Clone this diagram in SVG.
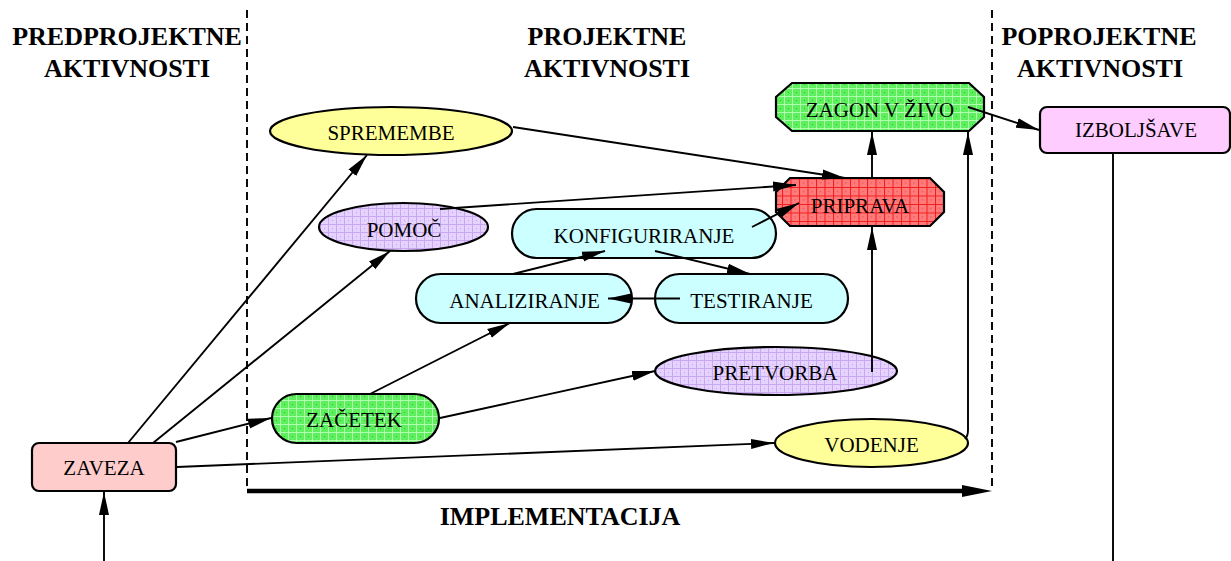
<svg xmlns="http://www.w3.org/2000/svg" width="1231" height="561" viewBox="0 0 1231 561">
  <style>
    .hdr { font-family: "Liberation Serif", "Times New Roman", serif; font-weight: bold; font-size: 26px; text-anchor: middle; fill: #000; }
    .lbl { font-family: "Liberation Serif", "Times New Roman", serif; font-size: 21px; text-anchor: middle; fill: #000; }
    .node { stroke: #000; stroke-width: 2.2; }
    .edge { stroke: #000; stroke-width: 1.9; fill: none; marker-end: url(#arrow); }
    .divider { stroke: #000; stroke-width: 1.9; stroke-dasharray: 8 5; fill: none; }
  </style>
  <defs>
    <marker id="arrow" markerUnits="userSpaceOnUse" markerWidth="24" markerHeight="11" refX="23" refY="5.5" orient="auto">
      <path d="M0,0.5 L23,5.5 L0,10.5 z" fill="#000"/>
    </marker>
    <!-- hatched grid fills -->
    <pattern id="gridGreen" patternUnits="userSpaceOnUse" width="8" height="8">
      <rect width="8" height="8" fill="#5eee5e"/>
      <path d="M0,0.5 H8 M0.5,0 V8" stroke="#b0ffb0" stroke-width="1"/>
      <rect x="4" y="4" width="1" height="1" fill="#1ec81e"/>
    </pattern>
    <pattern id="gridRed" patternUnits="userSpaceOnUse" width="8.5" height="8.5">
      <rect width="8.5" height="8.5" fill="#ff7a7a"/>
      <path d="M0,0.5 H8.5 M0.5,0 V8.5" stroke="#f21c1c" stroke-width="1"/>
      <rect x="4" y="4" width="1" height="1" fill="#d83a3a"/>
    </pattern>
    <pattern id="gridPurple" patternUnits="userSpaceOnUse" width="8" height="8">
      <rect width="8" height="8" fill="#e6d2ff"/>
      <path d="M0,0.5 H8 M0.5,0 V8" stroke="#c9a8f2" stroke-width="1"/>
      <rect x="4" y="4" width="1" height="1" fill="#c4a2ee"/>
    </pattern>
  </defs>

  <rect width="1231" height="561" fill="#fff"/>

  <!-- phase headers -->
  <g id="headers">
    <text class="hdr" x="127" y="45">PREDPROJEKTNE</text>
    <text class="hdr" x="127" y="77">AKTIVNOSTI</text>
    <text class="hdr" x="607" y="45">PROJEKTNE</text>
    <text class="hdr" x="607" y="77">AKTIVNOSTI</text>
    <text class="hdr" x="1099" y="45">POPROJEKTNE</text>
    <text class="hdr" x="1100" y="77">AKTIVNOSTI</text>
  </g>

  <!-- phase boundaries and implementation span -->
  <g id="frame">
    <line class="divider" x1="247" y1="10" x2="247" y2="491"/>
    <line class="divider" x1="992" y1="10" x2="992" y2="491"/>
    <line x1="247" y1="491" x2="964" y2="491" stroke="#000" stroke-width="4.5"/>
    <polygon points="962,485 992,491 962,497" fill="#000"/>
    <text class="hdr" x="560" y="525">IMPLEMENTACIJA</text>
  </g>

  <!-- activities -->
  <g id="zaveza">
    <rect class="node" x="32" y="443" width="144" height="48" rx="7" fill="#ffcccc"/>
    <text class="lbl" x="104" y="475">ZAVEZA</text>
  </g>
  <g id="spremembe">
    <ellipse class="node" cx="391" cy="131" rx="121" ry="24" fill="#ffff99"/>
    <text class="lbl" x="391" y="140">SPREMEMBE</text>
  </g>
  <g id="pomoc">
    <ellipse class="node" cx="403.5" cy="227" rx="84.5" ry="24" fill="url(#gridPurple)"/>
    <text class="lbl" x="404" y="237">POMOČ</text>
  </g>
  <g id="konfiguriranje">
    <rect class="node" x="512" y="209" width="264" height="49" rx="24.5" fill="#ccffff"/>
    <text class="lbl" x="644" y="243">KONFIGURIRANJE</text>
  </g>
  <g id="analiziranje">
    <rect class="node" x="416" y="274" width="216" height="49" rx="24.5" fill="#ccffff"/>
    <text class="lbl" x="524.5" y="308">ANALIZIRANJE</text>
  </g>
  <g id="testiranje">
    <rect class="node" x="655" y="274" width="193" height="49" rx="24.5" fill="#ccffff"/>
    <text class="lbl" x="751.5" y="308">TESTIRANJE</text>
  </g>
  <g id="pretvorba">
    <ellipse class="node" cx="776" cy="371" rx="121" ry="24" fill="url(#gridPurple)"/>
    <text class="lbl" x="775" y="380">PRETVORBA</text>
  </g>
  <g id="zacetek">
    <rect class="node" x="272" y="394" width="167" height="49" rx="24.5" fill="url(#gridGreen)"/>
    <text class="lbl" x="354" y="427">ZAČETEK</text>
  </g>
  <g id="vodenje">
    <ellipse class="node" cx="871.5" cy="443" rx="96.5" ry="24" fill="#ffff99"/>
    <text class="lbl" x="871.5" y="452">VODENJE</text>
  </g>
  <g id="priprava">
    <polygon class="node" points="790,178 930,178 944,192 944,212 930,226 790,226 776,212 776,192" fill="url(#gridRed)"/>
    <text class="lbl" x="860" y="213">PRIPRAVA</text>
  </g>
  <g id="zagon">
    <polygon class="node" points="792,83 969,83 984,97 984,117 969,131 792,131 776,117 776,97" fill="url(#gridGreen)"/>
    <text class="lbl" x="880" y="117">ZAGON V ŽIVO</text>
  </g>
  <g id="izboljsave">
    <rect class="node" x="1040" y="107" width="190" height="46" rx="7" fill="#ffccff"/>
    <text class="lbl" x="1136" y="137">IZBOLJŠAVE</text>
  </g>

  <!-- connectors, drawn over the activities -->
  <g id="connectors">
    <line class="edge" x1="104" y1="561" x2="104" y2="492"/>
    <line class="edge" x1="128" y1="443" x2="367" y2="155"/>
    <line class="edge" x1="153" y1="443" x2="390" y2="251"/>
    <line class="edge" x1="176" y1="442" x2="271" y2="418"/>
    <line class="edge" x1="177" y1="467" x2="774" y2="443"/>
    <line class="edge" x1="370" y1="394" x2="510" y2="323"/>
    <line class="edge" x1="440" y1="418" x2="655" y2="371"/>
    <line class="edge" x1="513" y1="274" x2="605" y2="251"/>
    <line class="edge" x1="655" y1="251" x2="750" y2="274"/>
    <line class="edge" x1="680" y1="298.5" x2="608" y2="298.5"/>
    <line class="edge" x1="752" y1="227" x2="799" y2="203"/>
    <line class="edge" x1="440" y1="209" x2="796" y2="185"/>
    <line class="edge" x1="513" y1="127" x2="845" y2="178"/>
    <line class="edge" x1="872" y1="178" x2="872" y2="132"/>
    <line class="edge" x1="872" y1="372" x2="872" y2="227"/>
    <path class="edge" d="M965,439 Q968,436 968,430 L968,132"/>
    <line class="edge" x1="968" y1="107" x2="1039" y2="130"/>
    <line x1="1113" y1="153" x2="1113" y2="561" stroke="#000" stroke-width="1.9"/>
  </g>
</svg>
